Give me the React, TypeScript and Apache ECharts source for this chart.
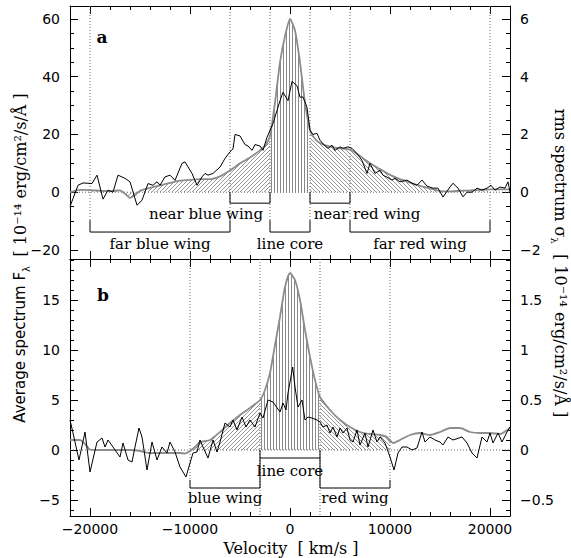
import React, { useEffect, useRef } from 'react';
import * as echarts from 'echarts';

// ---------- axis ranges & ticks ----------
const X_MIN = -22000;
const X_MAX = 22000;
const xMajorTicks = [-20000, -10000, 0, 10000, 20000];
const xMinorTicks = [-22000, -20000, -18000, -16000, -14000, -12000, -10000, -8000, -6000, -4000, -2000, 0,
  2000, 4000, 6000, 8000, 10000, 12000, 14000, 16000, 18000, 20000, 22000];

const yRangeA = [-23.14, 64.5];
const yRangeRmsA = [-2.314, 6.45];
const yMajorA = [-20, 0, 20, 40, 60];
const yMinorA = [-20, -15, -10, -5, 0, 5, 10, 15, 20, 25, 30, 35, 40, 45, 50, 55, 60];
const yMajorRmsA = [-2, 0, 2, 4, 6];
const yMinorRmsA = [-2, -1.5, -1, -0.5, 0, 0.5, 1, 1.5, 2, 2.5, 3, 3.5, 4, 4.5, 5, 5.5, 6];

const yRangeB = [-6.6, 19.1];
const yRangeRmsB = [-0.66, 1.91];
const yMajorB = [-5, 0, 5, 10, 15];
const yMinorB = [-6, -5, -4, -3, -2, -1, 0, 1, 2, 3, 4, 5, 6, 7, 8, 9, 10, 11, 12, 13, 14, 15, 16, 17, 18, 19];
const yMajorRmsB = [-0.5, 0, 0.5, 1, 1.5];
const yMinorRmsB = [-0.6, -0.5, -0.4, -0.3, -0.2, -0.1, 0, 0.1, 0.2, 0.3, 0.4, 0.5, 0.6, 0.7, 0.8, 0.9, 1.0,
  1.1, 1.2, 1.3, 1.4, 1.5, 1.6, 1.7, 1.8, 1.9];

// ---------- panel a: average spectrum (grey) [km/s, 1e-14 erg/cm2/s/A] ----------
const avgA: [number, number][] = [
  [-22000, 0], [-21500, 0.5], [-21000, 0.8], [-20000, 0.7], [-19000, 0.5], [-18000, 0.4], [-17000, 0.6],
  [-16500, -0.5], [-16000, -2.0], [-15500, -1.0], [-15000, 0.5], [-14000, 1.5], [-13000, 2.4], [-12000, 3.2],
  [-11000, 4.0], [-10000, 4.3], [-9000, 4.5], [-8000, 4.5], [-7000, 5.5], [-6000, 7.5], [-5000, 10],
  [-4000, 12], [-3000, 14.5], [-2500, 16], [-2000, 19.5], [-1500, 31], [-1000, 45], [-500, 54], [0, 60],
  [500, 56], [1000, 45], [1500, 31], [2000, 21.5], [2500, 18.5], [3000, 17], [4000, 15.8], [5000, 15.2],
  [6000, 14.8], [7000, 12.5], [8000, 10], [9000, 8], [10000, 6], [11000, 4.5], [12000, 3.3], [13000, 2.2],
  [14000, 1.3], [15000, 0.4], [16000, 0.3], [17000, 0.5], [18000, 0.6], [19000, 0.8], [20000, 1.0],
  [21000, 1.0], [22000, 1.0],
];

// ---------- panel a: rms spectrum (black) [km/s, 1e-14 erg/cm2/s/A] ----------
const rmsA: [number, number][] = [
  [-22000, -0.50], [-21700, -0.22], [-21200, 0.24], [-20700, 0.32], [-19800, 0.30], [-19300, 0.59],
  [-18700, -0.24], [-18200, 0.07], [-17700, 0.00], [-17200, 0.59], [-16500, 0.48], [-16000, 0.36],
  [-15300, -0.45], [-14800, -0.28], [-14200, 0.30], [-13700, 0.24], [-13300, 0.36], [-13000, 0.24],
  [-12500, 0.53], [-12000, 0.59], [-11500, 0.41], [-10800, 1.00], [-10500, 1.05], [-9800, 0.65],
  [-9300, 0.24], [-8800, 0.53], [-8500, 0.65], [-8200, 0.59], [-7700, 0.65], [-7000, 0.87],
  [-6500, 1.17], [-6000, 1.40], [-5700, 1.50], [-5500, 2.00], [-5000, 1.95], [-4500, 1.65],
  [-4200, 1.60], [-3800, 1.45], [-3500, 1.65], [-3000, 1.60], [-2700, 1.45], [-2300, 1.90],
  [-1700, 2.38], [-1000, 3.17], [-700, 3.46], [-200, 3.17], [200, 3.84], [700, 3.69], [1000, 3.29],
  [1300, 3.30], [1700, 2.94], [2000, 2.15], [2300, 2.00], [2700, 2.04], [3000, 1.80], [3500, 1.60],
  [3800, 1.52], [4200, 1.63], [4500, 1.45], [5000, 1.57], [5300, 1.52], [5800, 1.57], [6200, 1.52],
  [6700, 1.34], [7200, 1.10], [7700, 0.65], [8000, 1.00], [8500, 0.65], [9000, 0.76], [9300, 0.59],
  [9700, 0.52], [10200, 0.42], [10500, 0.48], [11000, 0.36], [11700, 0.42], [12200, 0.31], [12700, 0.24],
  [13200, 0.42], [13700, 0.21], [14300, 0.14], [14800, 0.14], [15300, -0.17], [16000, 0.18], [16300, 0.31],
  [16800, 0.14], [17300, -0.16], [17700, 0.00], [18200, 0.00], [18700, 0.14], [19200, 0.07], [19700, 0.14],
  [20100, 0.24], [20500, 0.07], [21000, 0.18], [21500, 0.14], [21800, 0.36], [22000, 0.00],
];

// ---------- panel b: average spectrum (grey) ----------
const avgB: [number, number][] = [
  [-22000, 1.0], [-21000, 1.0], [-20500, 0.6], [-20000, 0.05], [-19000, 0], [-18000, 0], [-17000, 0],
  [-16000, 0], [-15000, -0.1], [-14000, -0.3], [-13000, -0.3], [-12000, -0.3], [-11000, -0.3],
  [-10500, -0.35], [-10000, -0.1], [-9500, 0.3], [-9000, 0.8], [-8000, 1.0], [-7000, 1.8], [-6000, 2.7],
  [-5000, 3.5], [-4000, 4.2], [-3000, 5.0], [-2500, 6.0], [-2000, 7.7], [-1500, 10.5], [-1000, 13.3],
  [-500, 16.3], [0, 17.7], [500, 17.0], [1000, 15.0], [1500, 12.0], [2000, 9.3], [2500, 7.0], [3000, 5.3],
  [4000, 4.0], [5000, 3.0], [6000, 2.3], [7000, 1.8], [8000, 1.6], [9000, 1.5], [9700, 1.3], [10300, 0.7],
  [11000, 1.0], [12000, 1.5], [13000, 1.7], [14000, 1.5], [15000, 1.8], [16000, 2.2], [17000, 2.2],
  [18000, 1.8], [19000, 1.7], [20000, 1.7], [21000, 1.6], [22000, 2.2],
];

// ---------- panel b: rms spectrum (black) ----------
const rmsB: [number, number][] = [
  [-22000, 0.30], [-21700, 0.17], [-21100, -0.10], [-20500, 0.18], [-20000, -0.22], [-19300, 0.08],
  [-18800, 0.12], [-18500, 0.03], [-18200, 0.10], [-17700, 0.03], [-17000, -0.07], [-16700, 0.07],
  [-16200, -0.10], [-15800, -0.12], [-15500, 0.03], [-15100, 0.22], [-14800, 0.13], [-14300, -0.20],
  [-13800, 0.08], [-13300, -0.10], [-12800, 0.03], [-12300, -0.03], [-12000, 0.08], [-11500, -0.02],
  [-11000, -0.17], [-10400, -0.27], [-10000, -0.13], [-9700, -0.03], [-9300, -0.02], [-9000, 0.10],
  [-8700, 0.03], [-8200, -0.08], [-7700, 0.10], [-7300, -0.02], [-7000, 0.08], [-6500, 0.27],
  [-6000, 0.23], [-5700, 0.30], [-5300, 0.20], [-4800, 0.33], [-4400, 0.23], [-4000, 0.30],
  [-3500, 0.23], [-3000, 0.37], [-2700, 0.32], [-2200, 0.50], [-1700, 0.48], [-1000, 0.38],
  [-700, 0.47], [-400, 0.40], [-200, 0.57], [270, 0.83], [500, 0.63], [800, 0.43], [1200, 0.50],
  [1500, 0.30], [1800, 0.33], [2200, 0.32], [2700, 0.30], [3000, 0.28], [3300, 0.23], [3700, 0.25],
  [4000, 0.17], [4300, 0.23], [4700, 0.13], [5000, 0.22], [5300, 0.17], [5700, 0.22], [6000, 0.10],
  [6300, 0.08], [6700, 0.20], [7000, 0.05], [7500, 0.17], [7800, 0.03], [8300, 0.20], [8700, 0.08],
  [9000, 0.13], [9500, 0.07], [10000, -0.07], [10400, -0.20], [10800, -0.03], [11200, 0.03],
  [11700, 0.03], [12200, 0.00], [12700, 0.02], [13200, 0.18], [13500, 0.08], [14000, 0.13],
  [14500, 0.10], [15000, 0.08], [15300, 0.05], [15800, 0.13], [16300, 0.10], [17200, 0.13],
  [17700, 0.07], [18200, -0.03], [18700, -0.08], [19200, 0.13], [19700, 0.08], [20000, 0.17],
  [20300, 0.07], [20800, 0.17], [21200, 0.08], [21700, 0.18], [22000, 0.23],
];

// ---------- velocity regions ----------
const hatchEdgesA = [-20000, -6000, -2000, 2000, 6000, 20000];
const hatchKindsA = ['/', '/', '|', '\\', '\\'];
const hatchEdgesB = [-10000, -3000, 3000, 10000];
const hatchKindsB = ['/', '|', '\\'];

// dotted guide lines [x1, y1, x2, y2]
const dottedA = [
  [-20000, 64.5, -20000, -9.7], [-6000, 64.5, -6000, -9.7], [-2000, 64.5, -2000, -9.7],
  [2000, 64.5, 2000, -9.7], [6000, 64.5, 6000, -9.7], [20000, 64.5, 20000, -9.7],
  [-22000, 0, 22000, 0],
];
const dottedB = [
  [-10000, 19.1, -10000, -3], [-3000, 19.1, -3000, -6.6], [3000, 19.1, 3000, -6.6],
  [10000, 19.1, 10000, -3], [-22000, 0, 22000, 0],
];

// brackets [vFrom, vTo, tipFrom, bar, tipTo]
const bracketsA = [
  [-6000, -2000, 0, -3.8, 0],
  [2000, 6000, 0, -3.8, 0],
  [-20000, -6000, -9.7, -13.8, -9.7],
  [-2000, 2000, -9.7, -13.8, -9.7],
  [6000, 20000, -9.7, -13.8, -9.7],
];
const bracketsB = [
  [-3000, 3000, 0, -0.8, 0],
  [-10000, -3000, -3, -3.8, -0.8],
  [3000, 10000, -0.8, -3.8, -3],
];

// annotations
const labelsA = [
  { text: 'a', v: -18800, y: 53.8, bold: true },
  { text: 'near blue wing', v: -8400, y: -7.4 },
  { text: 'near red wing', v: 7700, y: -7.4 },
  { text: 'far blue wing', v: -13000, y: -17.9 },
  { text: 'line core', v: 0, y: -17.9 },
  { text: 'far red wing', v: 13000, y: -17.9 },
];
const labelsB = [
  { text: 'b', v: -18700, y: 15.5, bold: true },
  { text: 'line core', v: 0, y: -2.1 },
  { text: 'blue wing', v: -6500, y: -4.8 },
  { text: 'red wing', v: 6500, y: -4.8 },
];

const leftTitle = 'Average spectrum F{sub|λ}  {ser|[ 10⁻¹⁴ erg/cm²/s/Å ]}';
const rightTitle = 'rms spectrum σ{sub|λ}  [ 10⁻¹⁴ erg/cm²/s/Å ]';
const xTitle = 'Velocity  [ km/s ]';

const fmt = (v: number) => (v < 0 ? '\u2212' + String(-v) : String(v));

function hatchRender(pts: [number, number][], edges: number[], kinds: string[]) {
  return (_params: any, api: any) => {
    const P = pts.map((p) => api.coord(p));
    const y0 = api.coord([0, 0])[1];
    const yAt = (x: number) => {
      if (x <= P[0][0]) return P[0][1];
      for (let i = 0; i < P.length - 1; i++) {
        if (x <= P[i + 1][0]) {
          const t = (x - P[i][0]) / (P[i + 1][0] - P[i][0]);
          return P[i][1] + t * (P[i + 1][1] - P[i][1]);
        }
      }
      return P[P.length - 1][1];
    };
    const children: any[] = [];
    const seg = (x1: number, y1: number, x2: number, y2: number, c: string) =>
      children.push({ type: 'line', silent: true, shape: { x1, y1, x2, y2 }, style: { stroke: c, lineWidth: 0.9 } });
    for (let k = 0; k < kinds.length; k++) {
      const xa = api.coord([edges[k], 0])[0];
      const xb = api.coord([edges[k + 1], 0])[0];
      const kind = kinds[k];
      if (kind === '|') {
        for (let x = xa + 1.5; x < xb; x += 3) seg(x, y0, x, yAt(x), '#7a7a7a');
        continue;
      }
      const s = kind === '/' ? -1 : 1;
      let ymin = y0, ymax = y0;
      for (let x = xa; x <= xb; x += 1) {
        const y = yAt(x);
        ymin = Math.min(ymin, y);
        ymax = Math.max(ymax, y);
      }
      const cs = [ymin - s * xa, ymin - s * xb, ymax - s * xa, ymax - s * xb];
      const cmin = Math.min(...cs), cmax = Math.max(...cs);
      const step = 0.5;
      for (let c = Math.ceil(cmin / 4) * 4; c <= cmax; c += 4) {
        let start: number[] | null = null;
        let prev: number[] | null = null;
        for (let x = xa; x <= xb + 1e-6; x += step) {
          const y = c + s * x;
          const yc = yAt(x);
          const inside = (y - y0) * (y - yc) <= 0;
          if (inside && start === null) start = [x, y];
          if (!inside && start !== null && prev) {
            seg(start[0], start[1], prev[0], prev[1], '#8a8a8a');
            start = null;
          }
          if (inside) prev = [x, y];
        }
        if (start !== null && prev) seg(start[0], start[1], prev[0], prev[1], '#8a8a8a');
      }
    }
    return { type: 'group', children };
  };
}

const dottedRender = (_p: any, api: any) => {
  const p1 = api.coord([api.value(0), api.value(1)]);
  const p2 = api.coord([api.value(2), api.value(3)]);
  return {
    type: 'line', silent: true,
    shape: { x1: p1[0], y1: p1[1], x2: p2[0], y2: p2[1] },
    style: { stroke: '#666', lineWidth: 1, lineDash: [1, 2] },
  };
};

const bracketRender = (_p: any, api: any) => {
  const v0 = api.value(0), v1 = api.value(1), t0 = api.value(2), b = api.value(3), t1 = api.value(4);
  const pts = [[v0, t0], [v0, b], [v1, b], [v1, t1]].map((p) => api.coord(p));
  return { type: 'polyline', silent: true, shape: { points: pts }, style: { stroke: '#000', lineWidth: 1, fill: null } };
};

const labelRender = (list: any[]) => (params: any, api: any) => {
  const a = list[params.dataIndex];
  const p = api.coord([a.v, a.y]);
  return {
    type: 'text', silent: true, x: p[0], y: p[1],
    style: {
      text: a.text, fill: '#000', fontFamily: 'DejaVu Serif',
      fontSize: a.bold ? 17 : 15, fontWeight: a.bold ? 'bold' : 'normal',
      align: 'center', verticalAlign: 'middle',
    },
  };
};

const base = (gridIndex: number, min: number, max: number) => ({
  type: 'value', gridIndex, min, max, splitLine: { show: false }, axisPointer: { show: false },
});

const majorAxis = (gridIndex: number, position: string, min: number, max: number, vals: number[], labels: boolean, margin: number) => ({
  ...base(gridIndex, min, max),
  position,
  axisLine: { show: true, onZero: false, lineStyle: { color: '#000', width: 1 } },
  axisTick: { show: true, inside: true, length: 8, customValues: vals, lineStyle: { color: '#000', width: 1 } },
  axisLabel: labels
    ? { show: true, customValues: vals, formatter: fmt, color: '#000', fontFamily: 'DejaVu Sans', fontSize: 14, margin }
    : { show: false },
});

const minorAxis = (gridIndex: number, position: string, min: number, max: number, vals: number[]) => ({
  ...base(gridIndex, min, max),
  position,
  axisLine: { show: false, onZero: false },
  axisTick: { show: true, inside: true, length: 4, customValues: vals, lineStyle: { color: '#000', width: 1 } },
  axisLabel: { show: false },
});

export default function App() {
  const ref = useRef<HTMLDivElement>(null);
  useEffect(() => {
    document.body.style.margin = '0';
    if (!ref.current) return;
    const chart = echarts.init(ref.current, null, { renderer: 'svg' });
    const option: any = {
      animation: false,
      backgroundColor: '#ffffff',
      grid: [
        { left: 70, top: 6, width: 440, height: 253, containLabel: false, outerBoundsMode: 'none' },
        { left: 70, top: 259, width: 440, height: 257, containLabel: false, outerBoundsMode: 'none' },
      ],
      xAxis: [
        majorAxis(0, 'bottom', X_MIN, X_MAX, xMajorTicks, false, 6),
        majorAxis(1, 'bottom', X_MIN, X_MAX, xMajorTicks, true, 6),
        majorAxis(0, 'top', X_MIN, X_MAX, xMajorTicks, false, 6),
        majorAxis(1, 'top', X_MIN, X_MAX, xMajorTicks, false, 6),
        minorAxis(0, 'bottom', X_MIN, X_MAX, xMinorTicks),
        minorAxis(0, 'top', X_MIN, X_MAX, xMinorTicks),
        minorAxis(1, 'bottom', X_MIN, X_MAX, xMinorTicks),
        minorAxis(1, 'top', X_MIN, X_MAX, xMinorTicks),
      ],
      yAxis: [
        majorAxis(0, 'left', yRangeA[0], yRangeA[1], yMajorA, true, 10),
        majorAxis(0, 'right', yRangeRmsA[0], yRangeRmsA[1], yMajorRmsA, true, 10),
        majorAxis(1, 'left', yRangeB[0], yRangeB[1], yMajorB, true, 10),
        majorAxis(1, 'right', yRangeRmsB[0], yRangeRmsB[1], yMajorRmsB, true, 10),
        minorAxis(0, 'left', yRangeA[0], yRangeA[1], yMinorA),
        minorAxis(0, 'right', yRangeRmsA[0], yRangeRmsA[1], yMinorRmsA),
        minorAxis(1, 'left', yRangeB[0], yRangeB[1], yMinorB),
        minorAxis(1, 'right', yRangeRmsB[0], yRangeRmsB[1], yMinorRmsB),
      ],
      series: [
        // panel a
        { type: 'custom', xAxisIndex: 0, yAxisIndex: 0, z: 1, clip: true, silent: true, data: [[0, 0]],
          renderItem: hatchRender(avgA, hatchEdgesA, hatchKindsA) },
        { type: 'custom', xAxisIndex: 0, yAxisIndex: 0, z: 2, silent: true, data: dottedA, renderItem: dottedRender },
        { type: 'custom', xAxisIndex: 0, yAxisIndex: 0, z: 2, silent: true, data: bracketsA, renderItem: bracketRender },
        { type: 'custom', xAxisIndex: 0, yAxisIndex: 0, z: 6, silent: true,
          data: labelsA.map((a) => [a.v, a.y]), renderItem: labelRender(labelsA) },
        { type: 'line', xAxisIndex: 0, yAxisIndex: 0, z: 3, silent: true, data: avgA, symbol: 'none', smooth: 0.2,
          lineStyle: { color: '#8c8c8c', width: 1.8 } },
        { type: 'line', xAxisIndex: 0, yAxisIndex: 1, z: 4, silent: true, data: rmsA, symbol: 'none',
          lineStyle: { color: '#000', width: 1 } },
        // panel b
        { type: 'custom', xAxisIndex: 1, yAxisIndex: 2, z: 1, clip: true, silent: true, data: [[0, 0]],
          renderItem: hatchRender(avgB, hatchEdgesB, hatchKindsB) },
        { type: 'custom', xAxisIndex: 1, yAxisIndex: 2, z: 2, silent: true, data: dottedB, renderItem: dottedRender },
        { type: 'custom', xAxisIndex: 1, yAxisIndex: 2, z: 2, silent: true, data: bracketsB, renderItem: bracketRender },
        { type: 'custom', xAxisIndex: 1, yAxisIndex: 2, z: 6, silent: true,
          data: labelsB.map((a) => [a.v, a.y]), renderItem: labelRender(labelsB) },
        { type: 'line', xAxisIndex: 1, yAxisIndex: 2, z: 3, silent: true, data: avgB, symbol: 'none', smooth: 0.2,
          lineStyle: { color: '#8c8c8c', width: 1.8 } },
        { type: 'line', xAxisIndex: 1, yAxisIndex: 3, z: 4, silent: true, data: rmsB, symbol: 'none',
          lineStyle: { color: '#000', width: 1 } },
      ],
      graphic: {
        elements: [
          {
            type: 'text', x: 20, y: 258, rotation: Math.PI / 2, silent: true,
            style: {
              text: leftTitle, fill: '#000', fontFamily: 'DejaVu Sans', fontSize: 15,
              align: 'center', verticalAlign: 'middle',
              rich: {
                sub: { fontFamily: 'DejaVu Sans', fontSize: 10, verticalAlign: 'bottom', lineHeight: 22 },
                ser: { fontFamily: 'DejaVu Serif', fontSize: 16, lineHeight: 22 },
              },
            },
          },
          {
            type: 'text', x: 560, y: 263, rotation: -Math.PI / 2, silent: true,
            style: {
              text: rightTitle, fill: '#000', fontFamily: 'DejaVu Serif', fontSize: 16,
              align: 'center', verticalAlign: 'middle',
              rich: {
                sub: { fontFamily: 'DejaVu Serif', fontSize: 10, verticalAlign: 'bottom', lineHeight: 22 },
              },
            },
          },
          {
            type: 'text', x: 291, y: 548, silent: true,
            style: {
              text: xTitle, fill: '#000', fontFamily: 'DejaVu Serif', fontSize: 16,
              align: 'center', verticalAlign: 'middle',
            },
          },
        ],
      },
    };
    chart.setOption(option);
    return () => chart.dispose();
  }, []);
  return <div ref={ref} style={{ position: 'absolute', left: 0, top: 0, width: 571, height: 558, background: '#fff' }} />;
}
